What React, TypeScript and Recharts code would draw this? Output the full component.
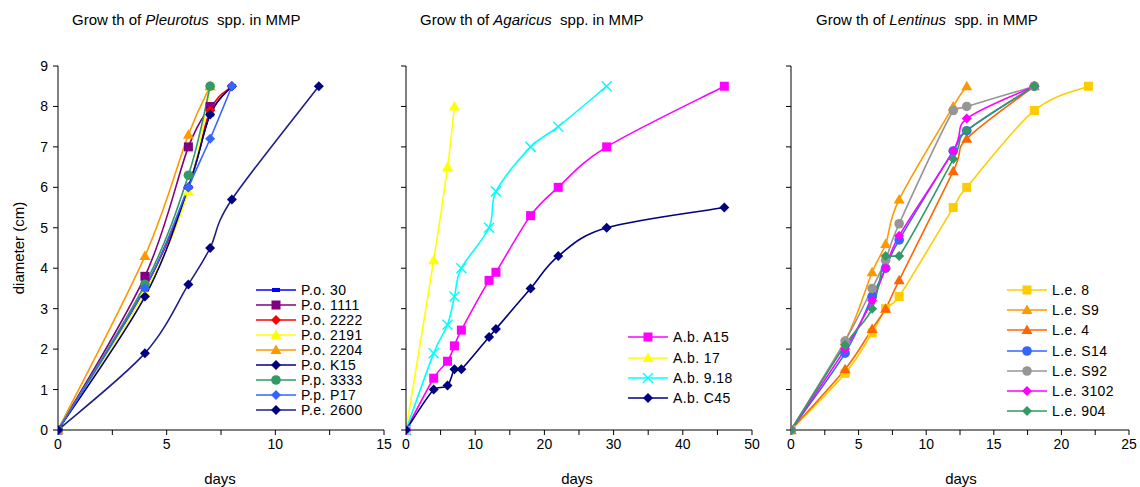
import React from 'react';
import { LineChart, Line, XAxis, YAxis } from 'recharts';

const FONT = "Arial, 'Liberation Sans', sans-serif";

// Pleurotus
const po30Days = [0, 4, 6, 7, 8];
const po30Diam = [0, 3.5, 6, 7.8, 8.5];
const po1111Days = [0, 4, 6, 7];
const po1111Diam = [0, 3.8, 7, 8];
const po2222Days = [0, 4, 6, 7, 8];
const po2222Diam = [0, 3.5, 6, 7.9, 8.5];
const po2191Days = [0, 4, 6, 7];
const po2191Diam = [0, 3.4, 5.9, 8.5];
const po2204Days = [0, 4, 6, 7];
const po2204Diam = [0, 4.3, 7.3, 8.5];
const poK15Days = [0, 4, 6, 7, 8];
const poK15Diam = [0, 3.3, 6, 7.8, 8.5];
const pp3333Days = [0, 4, 6, 7];
const pp3333Diam = [0, 3.6, 6.3, 8.5];
const ppP17Days = [0, 4, 6, 7, 8];
const ppP17Diam = [0, 3.5, 6, 7.2, 8.5];
const pe2600Days = [0, 4, 6, 7, 8, 12];
const pe2600Diam = [0, 1.9, 3.6, 4.5, 5.7, 8.5];

// Agaricus
const abA15Days = [0, 4, 6, 7, 8, 12, 13, 18, 22, 29, 46];
const abA15Diam = [0, 1.28, 1.7, 2.08, 2.47, 3.7, 3.9, 5.3, 6, 7, 8.5];
const ab17Days = [0, 4, 6, 7];
const ab17Diam = [0, 4.2, 6.5, 8];
const ab918Days = [0, 4, 6, 7, 8, 12, 13, 18, 22, 29];
const ab918Diam = [0, 1.9, 2.6, 3.3, 4, 5, 5.9, 7, 7.5, 8.5];
const abC45Days = [0, 4, 6, 7, 8, 12, 13, 18, 22, 29, 46];
const abC45Diam = [0, 1, 1.1, 1.5, 1.5, 2.3, 2.5, 3.5, 4.3, 5, 5.5];

// Lentinus
const le8Days = [0, 4, 6, 7, 8, 12, 13, 18, 22];
const le8Diam = [0, 1.4, 2.4, 3, 3.3, 5.5, 6, 7.9, 8.5];
const leS9Days = [0, 4, 6, 7, 8, 12, 13];
const leS9Diam = [0, 2.2, 3.9, 4.6, 5.7, 8, 8.5];
const le4Days = [0, 4, 6, 7, 8, 12, 13, 18];
const le4Diam = [0, 1.5, 2.5, 3, 3.7, 6.4, 7.2, 8.5];
const leS14Days = [0, 4, 6, 7, 8, 12, 13, 18];
const leS14Diam = [0, 1.9, 3.3, 4, 4.7, 6.9, 7.4, 8.5];
const leS92Days = [0, 4, 6, 7, 8, 12, 13, 18];
const leS92Diam = [0, 2.2, 3.5, 4.2, 5.1, 7.9, 8, 8.5];
const le3102Days = [0, 4, 6, 7, 8, 12, 13, 18];
const le3102Diam = [0, 2, 3.2, 4, 4.8, 6.9, 7.7, 8.5];
const le904Days = [0, 4, 6, 7, 8, 12, 13, 18];
const le904Diam = [0, 2.1, 3, 4.3, 4.3, 6.7, 7.4, 8.5];

const yTicks = [0, 1, 2, 3, 4, 5, 6, 7, 8, 9];
const xTicks1 = [0, 2.5, 5, 7.5, 10, 12.5, 15];
const xTicks2 = [0, 5, 10, 15, 20, 25, 30, 35, 40, 45, 50];
const xTicks3 = [0, 2.5, 5, 7.5, 10, 12.5, 15, 17.5, 20, 22.5, 25];

type Shape = 'dash' | 'square' | 'diamond' | 'triangle' | 'circle' | 'x';

interface Series {
  name: string;
  color: string;
  lineColor?: string;
  shape: Shape;
  days: number[];
  diam: number[];
}

const pleurotus: Series[] = [
  { name: 'P.o. 30', color: '#0000FF', shape: 'dash', days: po30Days, diam: po30Diam },
  { name: 'P.o. 1111', color: '#800080', shape: 'square', days: po1111Days, diam: po1111Diam },
  { name: 'P.o. 2222', color: '#FF0000', shape: 'diamond', days: po2222Days, diam: po2222Diam },
  { name: 'P.o. 2191', color: '#FFFF00', shape: 'triangle', days: po2191Days, diam: po2191Diam },
  { name: 'P.o. 2204', color: '#FF9900', shape: 'triangle', days: po2204Days, diam: po2204Diam },
  { name: 'P.o. K15', color: '#000080', shape: 'diamond', days: poK15Days, diam: poK15Diam },
  { name: 'P.p. 3333', color: '#339966', shape: 'circle', days: pp3333Days, diam: pp3333Diam },
  { name: 'P.p. P17', color: '#3366FF', shape: 'diamond', days: ppP17Days, diam: ppP17Diam },
  { name: 'P.e. 2600', color: '#000080', lineColor: '#1f1f8a', shape: 'diamond', days: pe2600Days, diam: pe2600Diam },
];

const agaricus: Series[] = [
  { name: 'A.b. A15', color: '#FF00FF', shape: 'square', days: abA15Days, diam: abA15Diam },
  { name: 'A.b. 17', color: '#FFFF00', shape: 'triangle', days: ab17Days, diam: ab17Diam },
  { name: 'A.b. 9.18', color: '#00FFFF', shape: 'x', days: ab918Days, diam: ab918Diam },
  { name: 'A.b. C45', color: '#000080', shape: 'diamond', days: abC45Days, diam: abC45Diam },
];

const lentinus: Series[] = [
  { name: 'L.e. 8', color: '#FFCC00', shape: 'square', days: le8Days, diam: le8Diam },
  { name: 'L.e. S9', color: '#FF9900', shape: 'triangle', days: leS9Days, diam: leS9Diam },
  { name: 'L.e. 4', color: '#FF6600', shape: 'triangle', days: le4Days, diam: le4Diam },
  { name: 'L.e. S14', color: '#3366FF', shape: 'circle', days: leS14Days, diam: leS14Diam },
  { name: 'L.e. S92', color: '#969696', shape: 'circle', days: leS92Days, diam: leS92Diam },
  { name: 'L.e. 3102', color: '#FF00FF', shape: 'diamond', days: le3102Days, diam: le3102Diam },
  { name: 'L.e. 904', color: '#339966', shape: 'diamond', days: le904Days, diam: le904Diam },
];

// spreadsheet-style smoothed line (Catmull-Rom, tangents clamped to avoid loops/overshoot)
function smoothCurve(context: any) {
  let pts: [number, number][] = [];
  const clamp = (tx: number, ty: number, dx: number, dy: number): [number, number] => {
    let k = 1;
    if (Math.abs(tx) > Math.abs(dx) * 0.9 && tx !== 0) k = Math.min(k, (Math.abs(dx) * 0.9) / Math.abs(tx));
    if (Math.abs(ty) > Math.abs(dy) * 0.9 && ty !== 0) k = Math.min(k, (Math.abs(dy) * 0.9) / Math.abs(ty));
    return [tx * k, ty * k];
  };
  return {
    areaStart() {},
    areaEnd() {},
    lineStart() { pts = []; },
    point(x: number, y: number) { pts.push([+x, +y]); },
    lineEnd() {
      if (!pts.length) return;
      context.moveTo(pts[0][0], pts[0][1]);
      for (let i = 0; i < pts.length - 1; i++) {
        const p0 = pts[i - 1] || pts[i];
        const p1 = pts[i];
        const p2 = pts[i + 1];
        const p3 = pts[i + 2] || p2;
        const dx = p2[0] - p1[0];
        const dy = p2[1] - p1[1];
        const t1 = clamp((p2[0] - p0[0]) / 6, (p2[1] - p0[1]) / 6, dx, dy);
        const t2 = clamp((p3[0] - p1[0]) / 6, (p3[1] - p1[1]) / 6, dx, dy);
        context.bezierCurveTo(p1[0] + t1[0], p1[1] + t1[1], p2[0] - t2[0], p2[1] - t2[1], p2[0], p2[1]);
      }
    },
  };
}

function Marker({ shape, x, y, color }: { shape: Shape; x: number; y: number; color: string }) {
  switch (shape) {
    case 'dash':
      return <rect x={x - 4} y={y - 2} width={8} height={4} fill={color} />;
    case 'square':
      return <rect x={x - 4.5} y={y - 4.5} width={9} height={9} fill={color} />;
    case 'diamond':
      return <polygon points={`${x},${y - 5} ${x + 5},${y} ${x},${y + 5} ${x - 5},${y}`} fill={color} />;
    case 'triangle':
      return <polygon points={`${x},${y - 5.5} ${x + 5.5},${y + 4} ${x - 5.5},${y + 4}`} fill={color} />;
    case 'circle':
      return <circle cx={x} cy={y} r={4.8} fill={color} />;
    case 'x':
      return (
        <g stroke={color} strokeWidth={1.5}>
          <line x1={x - 5} y1={y - 5} x2={x + 5} y2={y + 5} />
          <line x1={x - 5} y1={y + 5} x2={x + 5} y2={y - 5} />
        </g>
      );
  }
  return null;
}

function Panel({
  series, left, width, offsetLeft, offsetRight, xMax, xTicks, labelStep, showY,
}: {
  series: Series[]; left: number; width: number; offsetLeft: number; offsetRight: number;
  xMax: number; xTicks: number[]; labelStep: number; showY: boolean;
}) {
  return (
    <div style={{ position: 'absolute', left, top: 0 }}>
      <LineChart width={width} height={487} margin={{ top: 66, right: offsetRight, bottom: 27, left: 0 }}>
        <XAxis
          type="number"
          dataKey="x"
          domain={[0, xMax]}
          ticks={xTicks}
          tickFormatter={(v: number) => (v % labelStep === 0 ? String(v) : '')}
          interval={0}
          height={30}
          stroke="#000"
          tickSize={5}
          tickMargin={4}
          tick={{ fill: '#000', fontSize: 14, fontFamily: FONT }}
          allowDataOverflow
        />
        <YAxis
          type="number"
          domain={[0, 9]}
          ticks={yTicks}
          interval={0}
          width={offsetLeft}
          stroke="#000"
          tickSize={5}
          tickMargin={5}
          tickFormatter={(v: number) => (showY ? String(v) : '')}
          tick={{ fill: '#000', fontSize: 14, fontFamily: FONT }}
        />
        {series.map((s) => (
          <Line
            key={s.name}
            data={s.days.map((d, i) => ({ x: d, y: s.diam[i] }))}
            dataKey="y"
            type={smoothCurve as any}
            stroke={s.lineColor || s.color}
            strokeWidth={1.6}
            isAnimationActive={false}
            dot={(p: any) => <Marker key={`${s.name}-${p.index}`} shape={s.shape} x={p.cx} y={p.cy} color={s.color} />}
            activeDot={false}
          />
        ))}
      </LineChart>
    </div>
  );
}

function SeriesLegend({ series, left, top, rowH }: { series: Series[]; left: number; top: number; rowH: number }) {
  return (
    <div style={{ position: 'absolute', left, top, fontFamily: FONT, fontSize: 14, color: '#000' }}>
      {series.map((s) => (
        <div key={s.name} style={{ display: 'flex', alignItems: 'center', height: rowH }}>
          <svg width={42} height={12} style={{ marginRight: 3 }}>
            <line x1={0} y1={6} x2={40} y2={6} stroke={s.lineColor || s.color} strokeWidth={1.6} />
            <Marker shape={s.shape} x={20} y={6} color={s.color} />
          </svg>
          <span style={{ letterSpacing: 0.4 }}>{s.name}</span>
        </div>
      ))}
    </div>
  );
}

function Title({ left, genus }: { left: number; genus: string }) {
  return (
    <div style={{ position: 'absolute', left, top: 11, fontFamily: FONT, fontSize: 15, color: '#000', whiteSpace: 'nowrap' }}>
      Grow th of <i>{genus}</i>&nbsp; spp. in MMP
    </div>
  );
}

function AxisText({ cx, cy, text, rotate }: { cx: number; cy: number; text: string; rotate?: boolean }) {
  return (
    <div
      style={{
        position: 'absolute', left: cx, top: cy, fontFamily: FONT, fontSize: 15, color: '#000',
        whiteSpace: 'nowrap', transform: `translate(-50%, -50%)${rotate ? ' rotate(-90deg)' : ''}`,
      }}
    >
      {text}
    </div>
  );
}

export default function App() {
  return (
    <div style={{ position: 'absolute', left: 0, top: 0, width: 1140, height: 487, background: '#fff', overflow: 'hidden' }}>
      <Panel series={pleurotus} left={0} width={400} offsetLeft={58} offsetRight={16} xMax={15} xTicks={xTicks1} labelStep={5} showY />
      <Panel series={agaricus} left={390} width={380} offsetLeft={16} offsetRight={18} xMax={50} xTicks={xTicks2} labelStep={10} showY={false} />
      <Panel series={lentinus} left={770} width={370} offsetLeft={21} offsetRight={11} xMax={25} xTicks={xTicks3} labelStep={5} showY={false} />
      <Title left={72} genus="Pleurotus" />
      <Title left={420} genus="Agaricus" />
      <Title left={816} genus="Lentinus" />
      <AxisText cx={220} cy={478} text="days" />
      <AxisText cx={577} cy={478} text="days" />
      <AxisText cx={961} cy={478} text="days" />
      <AxisText cx={18} cy={248} text="diameter (cm)" rotate />
      <SeriesLegend series={pleurotus} left={256} top={282} rowH={15} />
      <SeriesLegend series={agaricus} left={628} top={327} rowH={20.4} />
      <SeriesLegend series={lentinus} left={1007} top={280} rowH={20.2} />
    </div>
  );
}
